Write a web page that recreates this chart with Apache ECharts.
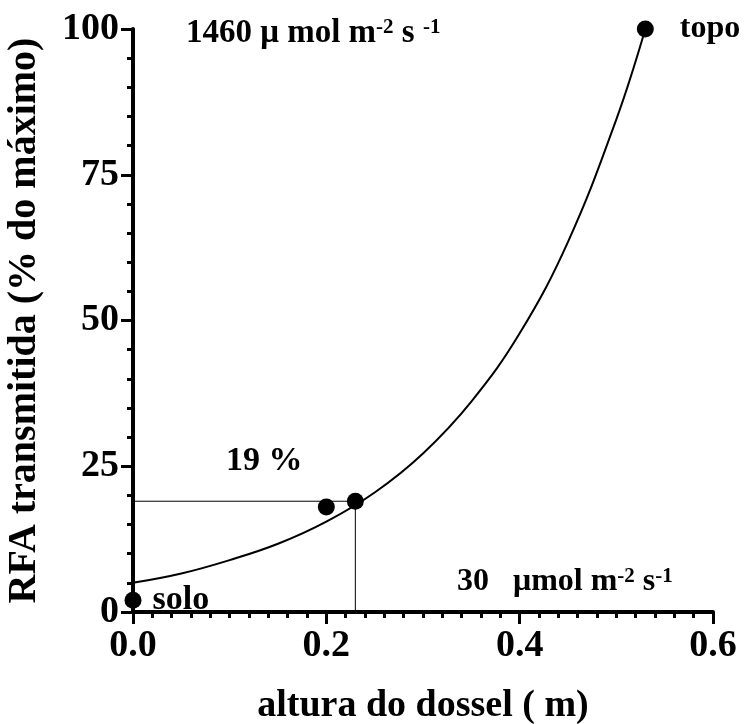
<!DOCTYPE html>
<html>
<head>
<meta charset="utf-8">
<script src="https://cdn.jsdelivr.net/npm/echarts@6/dist/echarts.min.js"></script>
<style>
  html, body { margin: 0; padding: 0; background: #fff; }
  #chart { width: 750px; height: 724px; }
</style>
</head>
<body>
<div id="chart"></div>
<script>
// measured points (altura do dossel, % RFA)
const pointsX = [0, 0.2, 0.23, 0.53];
const pointsY = [2, 18, 19, 100];
const pointLabels = ['solo', '', '', 'topo'];

// fitted curve
const curveX = [0, 0.05, 0.1, 0.15, 0.2, 0.25, 0.3, 0.35, 0.4, 0.45, 0.5, 0.53];
const curveY = [5.0, 6.6, 8.9, 11.7, 15.5, 20.5, 27.2, 36.1, 47.8, 63.5, 84.5, 100];

// guide lines to the 19 % point
const guideX = [0, 0.23, 0.23];
const guideY = [19, 19, 0];

const xTicks = [0, 0.2, 0.4, 0.6];
const yTicks = [0, 25, 50, 75, 100];

const serif = '"Liberation Serif", "Times New Roman", serif';

const chart = echarts.init(document.getElementById('chart'));

const option = {
  backgroundColor: '#fff',
  animation: false,
  grid: { left: 133, right: 37, top: 29, bottom: 112, outerBoundsMode: 'none' },
  xAxis: {
    type: 'value',
    min: xTicks[0],
    max: xTicks[xTicks.length - 1],
    interval: 0.2,
    name: 'altura do dossel ( m)',
    nameLocation: 'middle',
    nameGap: 75,
    nameTextStyle: { fontFamily: serif, fontWeight: 'bold', fontSize: 38, color: '#000' },
    axisLine: { lineStyle: { color: '#000', width: 4 } },
    axisTick: { length: 12, lineStyle: { color: '#000', width: 3 } },
    minorTick: { show: true, splitNumber: 10, length: 6, lineStyle: { color: '#000', width: 3 } },
    splitLine: { show: false },
    axisLabel: {
      margin: 15,
      fontFamily: serif, fontWeight: 'bold', fontSize: 38, color: '#000',
      formatter: v => v.toFixed(1)
    }
  },
  yAxis: {
    type: 'value',
    min: yTicks[0],
    max: yTicks[yTicks.length - 1],
    interval: 25,
    name: 'RFA transmitida (% do máximo)',
    nameLocation: 'middle',
    nameGap: 88,
    nameTextStyle: { fontFamily: serif, fontWeight: 'bold', fontSize: 40, color: '#000' },
    axisLine: { show: true, lineStyle: { color: '#000', width: 4 } },
    axisTick: { show: true, length: 12, lineStyle: { color: '#000', width: 3 } },
    minorTick: { show: true, splitNumber: 5, length: 6, lineStyle: { color: '#000', width: 3 } },
    splitLine: { show: false },
    axisLabel: {
      margin: 14,
      fontFamily: serif, fontWeight: 'bold', fontSize: 38, color: '#000'
    }
  },
  series: [
    {
      type: 'line',
      data: guideX.map((x, i) => [x, guideY[i]]),
      showSymbol: false,
      lineStyle: { color: '#000', width: 1 },
      silent: true,
      z: 1
    },
    {
      type: 'line',
      data: curveX.map((x, i) => [x, curveY[i]]),
      smooth: 0.4,
      showSymbol: false,
      lineStyle: { color: '#000', width: 2 },
      silent: true,
      z: 2
    },
    {
      type: 'scatter',
      data: pointsX.map((x, i) => ({
        value: [x, pointsY[i]],
        label: {
          show: pointLabels[i] !== '',
          formatter: pointLabels[i],
          distance: pointLabels[i] === 'topo' ? 26 : 11,
          fontSize: pointLabels[i] === 'topo' ? 32 : 34
        }
      })),
      symbol: 'circle',
      symbolSize: 17,
      itemStyle: { color: '#000', opacity: 1 },
      label: {
        position: 'right',
        fontFamily: serif, fontWeight: 'bold', fontSize: 34, color: '#000'
      },
      z: 3
    }
  ],
  graphic: [
    {
      type: 'text',
      left: 186,
      top: 17,
      style: {
        text: '{b|1460 μ mol m}{s|-2}{b| s }{s|-1}',
        rich: {
          b: { fontFamily: serif, fontWeight: 'bold', fontSize: 33, color: '#000', verticalAlign: 'bottom' },
          s: { fontFamily: serif, fontWeight: 'bold', fontSize: 21, color: '#000', verticalAlign: 'top' }
        }
      }
    },
    {
      type: 'text',
      left: 226,
      top: 444,
      style: {
        text: '19 %',
        font: 'bold 34px ' + serif,
        fill: '#000'
      }
    },
    {
      type: 'text',
      left: 457,
      top: 566,
      style: {
        text: '{b|30   μmol m}{s|-2}{b| s}{s|-1}',
        rich: {
          b: { fontFamily: serif, fontWeight: 'bold', fontSize: 32, color: '#000', verticalAlign: 'bottom' },
          s: { fontFamily: serif, fontWeight: 'bold', fontSize: 21, color: '#000', verticalAlign: 'top' }
        }
      }
    }
  ]
};

chart.setOption(option);
</script>
</body>
</html>
